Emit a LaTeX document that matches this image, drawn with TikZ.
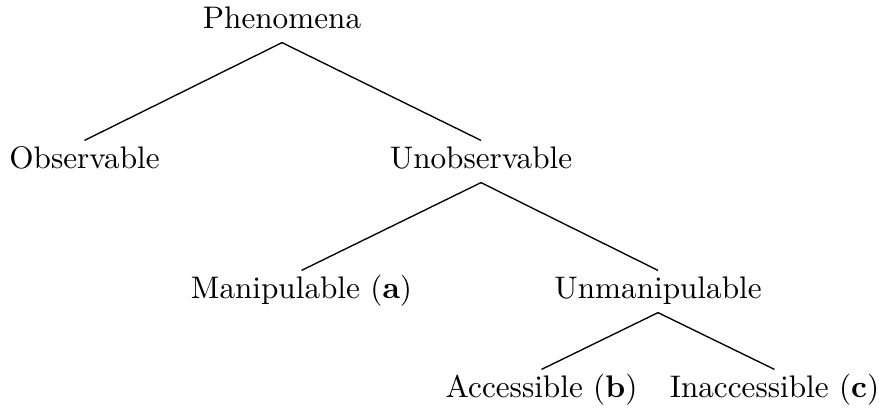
\documentclass[tikz,border=0pt]{standalone}
\begin{document}
\begin{tikzpicture}[x=0.3333pt, y=-0.3333pt,
  lbl/.style={inner sep=0pt, text height=9pt, text depth=4.67pt, anchor=base, font=\fontsize{10.4}{12.5}\selectfont},
  edge/.style={draw=black, line width=0.45pt}]
\useasboundingbox (0,0) rectangle (879,412);
\node[lbl] (phen) at (282,28) {Phenomena};
\node[lbl] (obs) at (84.5,168) {Observable};
\node[lbl] (unobs) at (481,168) {Unobservable};
\node[lbl] (manip) at (301.5,298) {Manipulable (\textbf{a})};
\node[lbl] (unmanip) at (658,298) {Unmanipulable};
\node[lbl] (acc) at (541.5,397) {Accessible (\textbf{b})};
\node[lbl] (inacc) at (774.5,397) {Inaccessible (\textbf{c})};
\draw[edge] (phen.south) -- (obs.north);
\draw[edge] (phen.south) -- (unobs.north);
\draw[edge] (unobs.south) -- (manip.north);
\draw[edge] (unobs.south) -- (unmanip.north);
\draw[edge] (unmanip.south) -- (acc.north);
\draw[edge] (unmanip.south) -- (inacc.north);
\end{tikzpicture}
\end{document}
